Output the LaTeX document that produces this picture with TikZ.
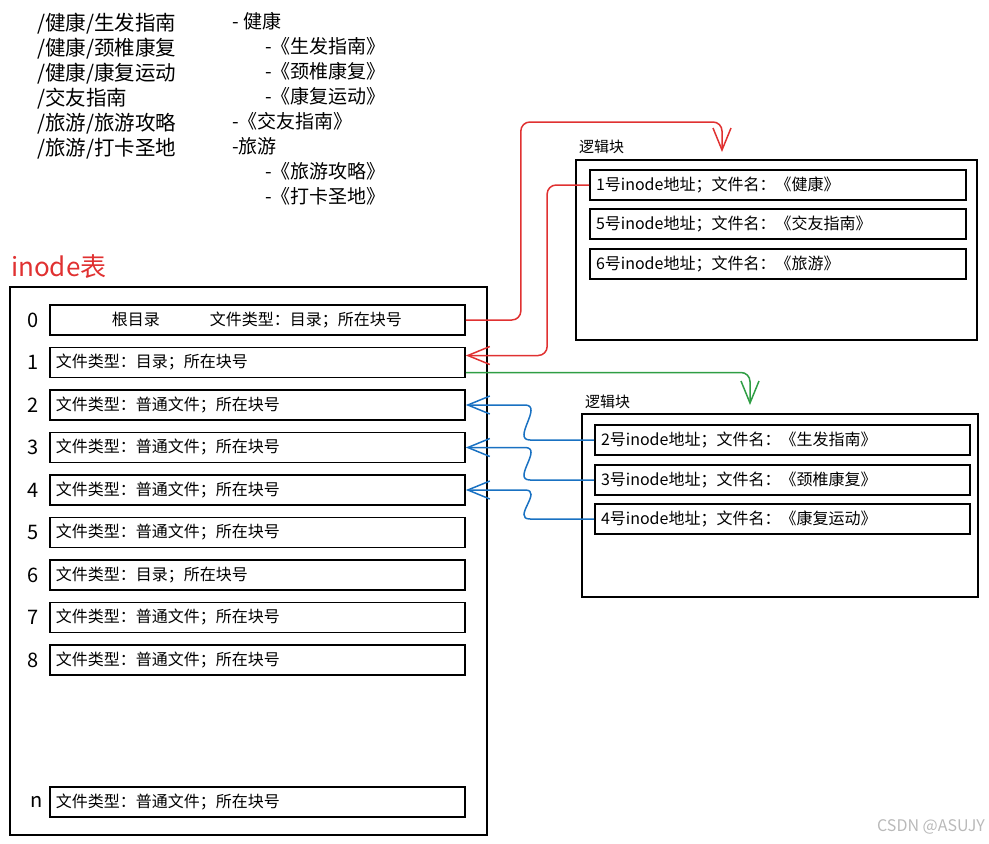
\documentclass[tikz,border=0pt]{standalone}
\usepackage{fontspec}
\setmainfont{Noto Sans CJK SC}
\usepackage{xcolor}
\usepackage{tikz}
\usetikzlibrary{arrows.meta}
\definecolor{xred}{HTML}{E03131}
\definecolor{xgreen}{HTML}{2F9E44}
\definecolor{xblue}{HTML}{1971C2}
\tikzset{
  pathtxt/.style={anchor=west, inner sep=0pt, font=\fontsize{20.5}{24}\selectfont},
  treetxt/.style={anchor=west, inner sep=0pt, font=\fontsize{19}{22}\selectfont},
  rowbox/.style={draw, line width=1.7pt, minimum height=30pt, inner xsep=6pt, inner ysep=0pt,
    text width=#1, align=left, font=\fontsize{16}{19}\selectfont},
  bigbox/.style={draw, line width=1.7pt, inner sep=0pt},
  idx/.style={inner sep=0pt, font=\fontsize{20}{22}\selectfont},
  lbl/.style={anchor=west, inner sep=0pt, font=\fontsize{15}{18}\selectfont},
  link/.style={line width=1.5pt, rounded corners=9pt, -{Straight Barb[length=22pt,width=18pt]}},
}

\begin{document}
\begin{tikzpicture}[x=1pt,y=-1pt]
\useasboundingbox (0,0) rectangle (989,844);

\node[pathtxt] (p1) at (37,24) {/健康/生发指南};
\node[pathtxt] (p2) at (37,49) {/健康/颈椎康复};
\node[pathtxt] (p3) at (37,74) {/健康/康复运动};
\node[pathtxt] (p4) at (37,99) {/交友指南};
\node[pathtxt] (p5) at (37,124) {/旅游/旅游攻略};
\node[pathtxt] (p6) at (37,149) {/旅游/打卡圣地};

\node[treetxt] (t1) at (232,21) {- 健康};
\node[treetxt] (t2) at (265,46) {-《生发指南》};
\node[treetxt] (t3) at (265,71) {-《颈椎康复》};
\node[treetxt] (t4) at (265,96) {-《康复运动》};
\node[treetxt] (t5) at (232,121) {-《交友指南》};
\node[treetxt] (t6) at (232,146) {-旅游};
\node[treetxt] (t7) at (265,171) {-《旅游攻略》};
\node[treetxt] (t8) at (265,196) {-《打卡圣地》};

% inode table
\node[anchor=west, inner sep=0pt, text=xred, font=\fontsize{26}{30}\selectfont] (title) at (11,267) {inode表};
\node[bigbox, minimum width=477pt, minimum height=548pt] (tab) at (248.5,561) {};
\node[rowbox=403pt] (r0) at (257.5,320) {\hspace*{56pt}根目录\hspace{50pt}文件类型：目录；所在块号};
\foreach \i/\k in {1/目录,2/普通文件,3/普通文件,4/普通文件,5/普通文件,6/目录,7/普通文件,8/普通文件}
  \node[rowbox=403pt] (r\i) at (257.5,{320+42.5*\i}) {文件类型：\k；所在块号};
\node[rowbox=403pt] (rn) at (257.5,802) {文件类型：普通文件；所在块号};
\foreach \i in {0,...,8}
  \node[idx] (i\i) at (33,{320+42.5*\i}) {\i};
\node[idx] (in) at (37,802) {n};

% logical blocks
\node[lbl] (ubl) at (579,147) {逻辑块};
\node[bigbox, minimum width=401pt, minimum height=180pt] (ub) at (776.5,250) {};
\node[rowbox=364pt] (u1) at (778,185) {1号inode地址；文件名：《健康》};
\node[rowbox=364pt] (u2) at (778,224) {5号inode地址；文件名：《交友指南》};
\node[rowbox=364pt] (u3) at (778,264) {6号inode地址；文件名：《旅游》};

\node[lbl] (lbl) at (585,402) {逻辑块};
\node[bigbox, minimum width=396pt, minimum height=183pt] (lb) at (780,505.5) {};
\node[rowbox=363pt] (l1) at (782.5,440) {2号inode地址；文件名：《生发指南》};
\node[rowbox=363pt] (l2) at (782.5,480) {3号inode地址；文件名：《颈椎康复》};
\node[rowbox=363pt] (l3) at (782.5,519) {4号inode地址；文件名：《康复运动》};

\coordinate (ubin) at (722,152);
\coordinate (lbin) at (750,405);

\draw[link, xred] (r0.east) -- ++(55,0) |- ([yshift=30pt]ubin) -- (ubin);
\draw[link, xred] (u1.west) -- ++(-42,0) |- ([yshift=7pt]r1.east);
\draw[link, xgreen] ([yshift=-10pt]r1.east) -| (lbin);
\draw[link, xblue] (l1.west) -- ++(-55,0) .. controls +(-28,0) and +(28,0) .. ([xshift=50pt]r2.east) -- (r2.east);
\draw[link, xblue] (l2.west) -- ++(-55,0) .. controls +(-28,0) and +(28,0) .. ([xshift=50pt]r3.east) -- (r3.east);
\draw[link, xblue] (l3.west) -- ++(-55,0) .. controls +(-28,0) and +(28,0) .. ([xshift=50pt]r4.east) -- (r4.east);

\node[anchor=east, inner sep=0pt, text=gray!55, font=\fontsize{16}{18}\selectfont] (mark) at (985,827) {CSDN @ASUJY};
\end{tikzpicture}
\end{document}
